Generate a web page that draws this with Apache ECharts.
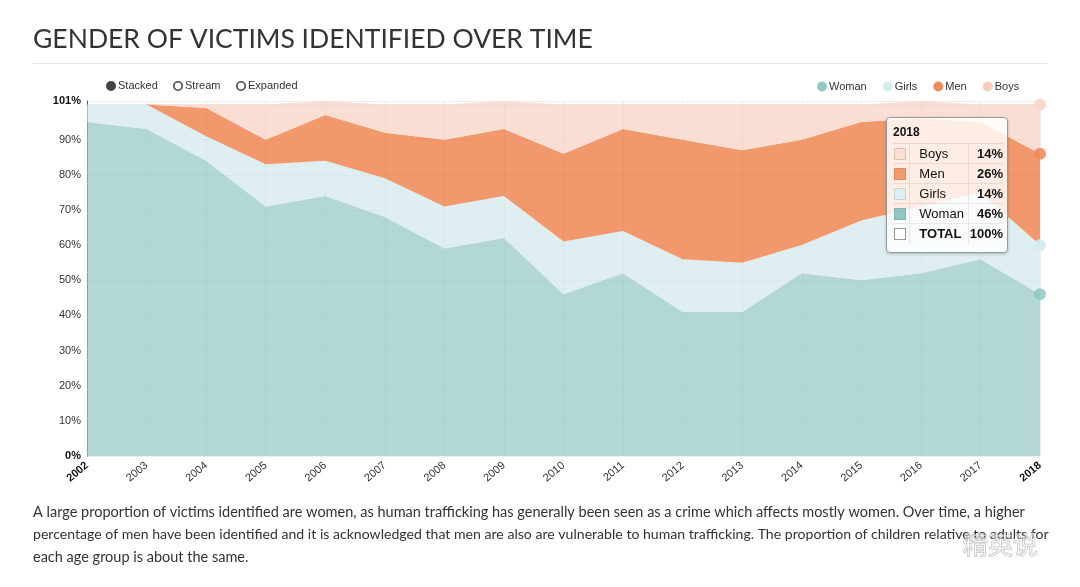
<!DOCTYPE html>
<html>
<head>
<meta charset="utf-8">
<script src="https://cdn.jsdelivr.net/npm/echarts@6/dist/echarts.min.js"></script>
<style>
html,body{margin:0;padding:0;background:#fff;}
#chart{width:1080px;height:587px;position:relative;}
</style>
</head>
<body>
<div id="chart"></div>
<script>
var years = ['2002','2003','2004','2005','2006','2007','2008','2009','2010','2011','2012','2013','2014','2015','2016','2017','2018'];
var woman = [95,93,84,71,74,68,59,62,46,52,41,41,52,50,52,56,46];
var girls = [5,7,7,12,10,11,12,12,15,12,15,14,8,17,19,19,14];
var men   = [0,0,8,7,13,13,19,19,25,29,34,32,30,28,25,20,26];
var boys  = [0,0,1,10,4,8,10,8,14,7,10,13,10,5,5,5,14];
var seriesNames = ['Woman','Girls','Men','Boys'];
var titleText = 'GENDER OF VICTIMS IDENTIFIED OVER TIME';
var modeLabels = ['Stacked','Stream','Expanded'];
var paragraph = [
  'A large proportion of victims identified are women, as human trafficking has generally been seen as a crime which affects mostly women. Over time, a higher',
  'percentage of men have been identified and it is acknowledged that men are also are vulnerable to human trafficking. The proportion of children relative to adults for',
  'each age group is about the same.'
];
var paragraphSizes = [14.5, 14.1, 14.5];

var legendColors = ['#8fcbc3','#d5ebed','#ee8d5c','#f8cdb9'];
var areaColors = ['rgba(148,199,196,0.72)','rgba(211,232,234,0.72)','rgba(235,114,51,0.72)','rgba(249,209,194,0.72)'];
var markerColors = ['rgba(143,200,196,0.85)','rgba(214,235,236,0.9)','rgba(238,140,92,0.9)','rgba(249,213,198,0.9)'];
var dataSets = [woman, girls, men, boys];

var chart = echarts.init(document.getElementById('chart'), null, {renderer:'canvas'});

function buildData(arr, idx){
  return arr.map(function(v,i){
    if (i === arr.length-1) {
      return {value:v, symbol:'circle', symbolSize:11, itemStyle:{color:markerColors[idx]}};
    }
    return {value:v, symbol:'none'};
  });
}

var series = dataSets.map(function(arr, idx){
  return {
    name: seriesNames[idx],
    type: 'line',
    stack: 'total',
    data: buildData(arr, idx),
    showSymbol: true,
    symbol: 'none',
    lineStyle: {width:0},
    itemStyle: {color: legendColors[idx]},
    areaStyle: {color: areaColors[idx], opacity:1},
    emphasis: {disabled:true},
    z: 2
  };
});

function tooltipHtml(){
  var i = years.length-1;
  var rows = [
    ['Boys', boys[i], '#fadfd4', '#e0bfb2'],
    ['Men', men[i], '#f19c70', '#e08b5e'],
    ['Girls', girls[i], '#e0eff0', '#c0d6d8'],
    ['Woman', woman[i], '#92c6c1', '#7fb3ae'],
    ['TOTAL', woman[i]+girls[i]+men[i]+boys[i], '#ffffff', '#999']
  ];
  var h = '<div style="font:bold 12px \'Liberation Sans\',Arial,sans-serif;color:#111;height:20px;line-height:18px;">'+years[i]+'</div>';
  h += '<table style="border-collapse:collapse;font:13px \'Liberation Sans\',Arial,sans-serif;color:#111;">';
  rows.forEach(function(r, k){
    var bt = 'border-top:1px solid rgba(0,0,0,0.08);';
    var bold = (r[0]==='TOTAL') ? 'font-weight:bold;' : '';
    h += '<tr style="height:20px;">'+
      '<td style="'+bt+'width:20px;padding:0;border-right:1px solid rgba(0,0,0,0.08);"><div style="width:10px;height:10px;margin-left:1px;background:'+r[2]+';border:1px solid '+r[3]+';"></div></td>'+
      '<td style="'+bt+bold+'width:54px;padding:0 0 0 9px;border-right:1px solid rgba(0,0,0,0.08);">'+r[0]+'</td>'+
      '<td style="'+bt+'width:34px;padding:0;text-align:right;font-weight:bold;">'+r[1]+'%</td>'+
      '</tr>';
  });
  h += '</table>';
  return h;
}

var graphics = [
  {type:'text', left:33, top:26, style:{text:titleText, font:'26.5px Lato', fill:'#333'}},
  {type:'line', shape:{x1:33,y1:63.5,x2:1047,y2:63.5}, style:{stroke:'#e2e2e2', lineWidth:1}},
  {type:'circle', shape:{cx:111, cy:86, r:5}, style:{fill:'#444'}},
  {type:'text', x:118, y:86, style:{text:modeLabels[0], font:'11px "Liberation Sans", Arial', fill:'#333', verticalAlign:'middle'}},
  {type:'circle', shape:{cx:178, cy:86, r:4.2}, style:{fill:'#fff', stroke:'#444', lineWidth:1.6}},
  {type:'text', x:185, y:86, style:{text:modeLabels[1], font:'11px "Liberation Sans", Arial', fill:'#333', verticalAlign:'middle'}},
  {type:'circle', shape:{cx:241, cy:86, r:4.2}, style:{fill:'#fff', stroke:'#444', lineWidth:1.6}},
  {type:'text', x:248, y:86, style:{text:modeLabels[2], font:'11px "Liberation Sans", Arial', fill:'#333', verticalAlign:'middle'}}
];
paragraph.forEach(function(line, k){
  graphics.push({type:'text', x:33, y:512 + k*22.5, style:{text:line, font:paragraphSizes[k]+'px Lato', fill:'#333', verticalAlign:'middle'}});
});
graphics.push({type:'text', x:963, y:544, z:100, style:{text:'精英说', font:'25px "Noto Sans CJK SC"', fill:'rgba(255,255,255,0.55)', stroke:'rgba(130,130,130,0.55)', lineWidth:1, verticalAlign:'middle'}});

var option = {
  animation: false,
  backgroundColor: '#fff',
  textStyle: {fontFamily: '"Liberation Sans", Arial, sans-serif'},
  graphic: graphics,
  legend: {
    data: seriesNames,
    left: 812, top: 76,
    icon: 'circle',
    itemWidth: 10, itemHeight: 10,
    itemGap: 16,
    selectedMode: false,
    textStyle: {fontSize: 11, color:'#333', padding:[0,0,0,-3]}
  },
  grid: {left:87, right:40, top:101, bottom:131, containLabel:false},
  tooltip: {
    trigger: 'axis',
    alwaysShowContent: true,
    triggerOn: 'none',
    transitionDuration: 0,
    axisPointer: {type:'none'},
    backgroundColor: 'rgba(255,255,255,0.82)',
    borderColor: '#999',
    borderWidth: 1,
    borderRadius: 4,
    padding: [5,4,8,6],
    extraCssText: 'box-shadow:0 1px 3px rgba(0,0,0,0.25);width:110px;',
    position: function(){ return [886,117]; },
    formatter: function(){ return tooltipHtml(); }
  },
  xAxis: {
    type: 'category',
    data: years,
    boundaryGap: false,
    axisLine: {show:false},
    axisTick: {show:false},
    splitLine: {show:true, lineStyle:{color:'rgba(0,0,0,0.07)', width:1}},
    axisLabel: {
      rotate: 40, fontSize: 11, color:'#333', margin: 8, interval: 0,
      formatter: function(v, i){ return (i===0 || i===years.length-1) ? '{b|'+v+'}' : v; },
      rich: {b:{fontWeight:'bold', fontSize:11, color:'#111'}}
    }
  },
  yAxis: {
    type: 'value',
    min: 0, max: 101,
    interval: 10,
    axisLine: {show:true, lineStyle:{color:'#555', width:1}},
    axisTick: {show:false},
    splitLine: {show:true, lineStyle:{color:'rgba(0,0,0,0.07)', width:1}},
    axisLabel: {
      fontSize: 11, color:'#333', margin: 6,
      formatter: function(v){
        if (v === 0) return '{b|0%}';
        if (v === 101) return '{b|101%}';
        if (v === 100) return '';
        return v + '%';
      },
      rich: {b:{fontWeight:'bold', fontSize:11, color:'#111'}}
    }
  },
  series: series
};
chart.setOption(option);
chart.dispatchAction({type:'showTip', seriesIndex:0, dataIndex:years.length-1});
</script>
</body>
</html>
